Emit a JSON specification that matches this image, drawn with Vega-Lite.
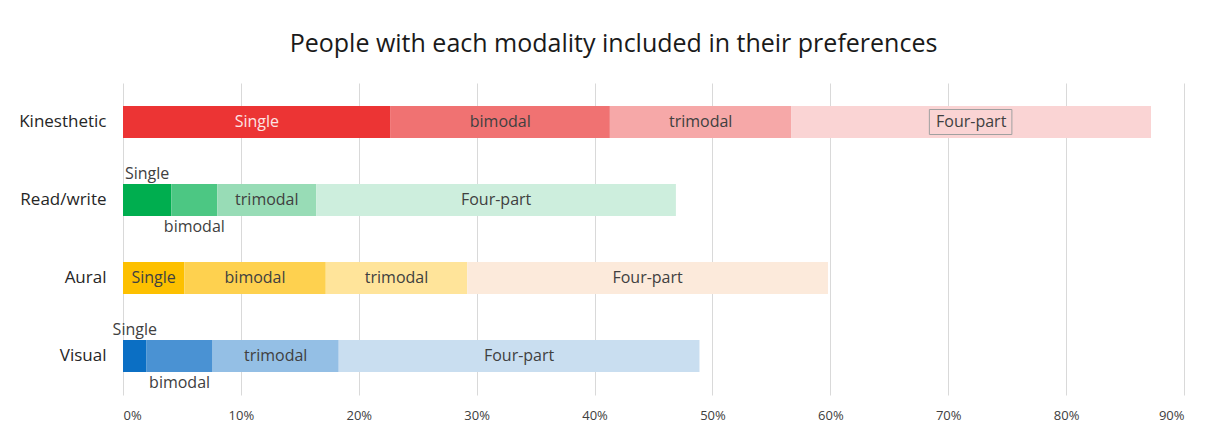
{
  "$schema": "https://vega.github.io/schema/vega-lite/v6.json",
  "width": 1061,
  "height": 312,
  "autosize": {"type": "none"},
  "padding": {"left": 123, "top": 83, "right": 33, "bottom": 37},
  "background": "white",
  "title": {
    "text": "People with each modality included in their preferences",
    "font": "Open Sans",
    "fontSize": 25,
    "fontWeight": "normal",
    "color": "#1a1a1a",
    "anchor": "middle",
    "dx": -40,
    "offset": 26
  },
  "config": {
    "view": {"stroke": null},
    "font": "Open Sans"
  },
  "datasets": {
    "segs": [
      {"modality": "Kinesthetic", "part": "Single", "key": "K1", "start": 0, "end": 22.7},
      {"modality": "Kinesthetic", "part": "bimodal", "key": "K2", "start": 22.7, "end": 41.3},
      {"modality": "Kinesthetic", "part": "trimodal", "key": "K3", "start": 41.3, "end": 56.7},
      {"modality": "Kinesthetic", "part": "Four-part", "key": "K4", "start": 56.7, "end": 87.2},
      {"modality": "Read/write", "part": "Single", "key": "R1", "start": 0, "end": 4.1},
      {"modality": "Read/write", "part": "bimodal", "key": "R2", "start": 4.1, "end": 8.0},
      {"modality": "Read/write", "part": "trimodal", "key": "R3", "start": 8.0, "end": 16.4},
      {"modality": "Read/write", "part": "Four-part", "key": "R4", "start": 16.4, "end": 46.9},
      {"modality": "Aural", "part": "Single", "key": "A1", "start": 0, "end": 5.2},
      {"modality": "Aural", "part": "bimodal", "key": "A2", "start": 5.2, "end": 17.2},
      {"modality": "Aural", "part": "trimodal", "key": "A3", "start": 17.2, "end": 29.2},
      {"modality": "Aural", "part": "Four-part", "key": "A4", "start": 29.2, "end": 59.8},
      {"modality": "Visual", "part": "Single", "key": "V1", "start": 0, "end": 2.0},
      {"modality": "Visual", "part": "bimodal", "key": "V2", "start": 2.0, "end": 7.6},
      {"modality": "Visual", "part": "trimodal", "key": "V3", "start": 7.6, "end": 18.3},
      {"modality": "Visual", "part": "Four-part", "key": "V4", "start": 18.3, "end": 48.9}
    ],
    "box": [
      {"modality": "Kinesthetic", "start": 68.4, "end": 75.4}
    ]
  },
  "encoding": {
    "y": {
      "field": "modality",
      "type": "nominal",
      "sort": ["Kinesthetic", "Read/write", "Aural", "Visual"],
      "scale": {"paddingInner": 0.59, "paddingOuter": 0.295},
      "axis": {
        "title": null,
        "domain": false,
        "ticks": false,
        "labelPadding": 17,
        "labelFontSize": 17,
        "labelColor": "#262626",
        "labelFont": "Open Sans"
      }
    }
  },
  "layer": [
    {
      "data": {"name": "segs"},
      "mark": {"type": "bar"},
      "encoding": {
        "x": {
          "field": "start",
          "type": "quantitative",
          "scale": {"domain": [0, 90], "nice": false},
          "axis": {
            "title": null,
            "values": [0, 10, 20, 30, 40, 50, 60, 70, 80, 90],
            "labelExpr": "datum.value + '%'",
            "domain": false,
            "ticks": false,
            "grid": true,
            "gridColor": "#d9d9d9",
            "gridWidth": 1,
            "labelFontSize": 13,
            "labelColor": "#404040",
            "labelPadding": 14,
            "labelFont": "Open Sans"
          }
        },
        "x2": {"field": "end"},
        "color": {
          "field": "key",
          "type": "nominal",
          "legend": null,
          "scale": {
            "domain": ["K1","K2","K3","K4","R1","R2","R3","R4","A1","A2","A3","A4","V1","V2","V3","V4"],
            "range": ["#ec3434","#f07272","#f6a8a8","#fad4d4","#00ae4f","#4cc783","#98dcb6","#cdeedd","#fdc000","#fed14f","#ffe49a","#fceadb","#0b6fc4","#4a92d3","#94bfe5","#c9def0"]
          }
        }
      }
    },
    {
      "data": {"name": "box"},
      "mark": {"type": "bar", "height": 25, "fill": null, "fillOpacity": 0, "stroke": "#a0a0a0", "strokeWidth": 1},
      "encoding": {
        "x": {"field": "start", "type": "quantitative"},
        "x2": {"field": "end"}
      }
    },
    {
      "data": {"name": "segs"},
      "transform": [
        {"filter": "!((datum.modality === 'Read/write' || datum.modality === 'Visual') && (datum.part === 'Single' || datum.part === 'bimodal'))"},
        {"calculate": "(datum.start + datum.end) / 2", "as": "mid"}
      ],
      "mark": {"type": "text", "fontSize": 16, "font": "Open Sans"},
      "encoding": {
        "x": {"field": "mid", "type": "quantitative"},
        "text": {"field": "part"},
        "color": {
          "condition": {"test": "datum.key === 'K1'", "value": "#fde3e3"},
          "value": "#404040"
        }
      }
    },
    {
      "data": {"name": "segs"},
      "transform": [
        {"filter": "(datum.modality === 'Read/write' || datum.modality === 'Visual') && datum.part === 'Single'"},
        {"calculate": "(datum.start + datum.end) / 2", "as": "mid"}
      ],
      "mark": {"type": "text", "fontSize": 16, "font": "Open Sans", "dy": -26, "color": "#404040"},
      "encoding": {
        "x": {"field": "mid", "type": "quantitative"},
        "text": {"field": "part"}
      }
    },
    {
      "data": {"name": "segs"},
      "transform": [
        {"filter": "(datum.modality === 'Read/write' || datum.modality === 'Visual') && datum.part === 'bimodal'"},
        {"calculate": "(datum.start + datum.end) / 2", "as": "mid"}
      ],
      "mark": {"type": "text", "fontSize": 16, "font": "Open Sans", "dy": 27, "color": "#404040"},
      "encoding": {
        "x": {"field": "mid", "type": "quantitative"},
        "text": {"field": "part"}
      }
    }
  ]
}
